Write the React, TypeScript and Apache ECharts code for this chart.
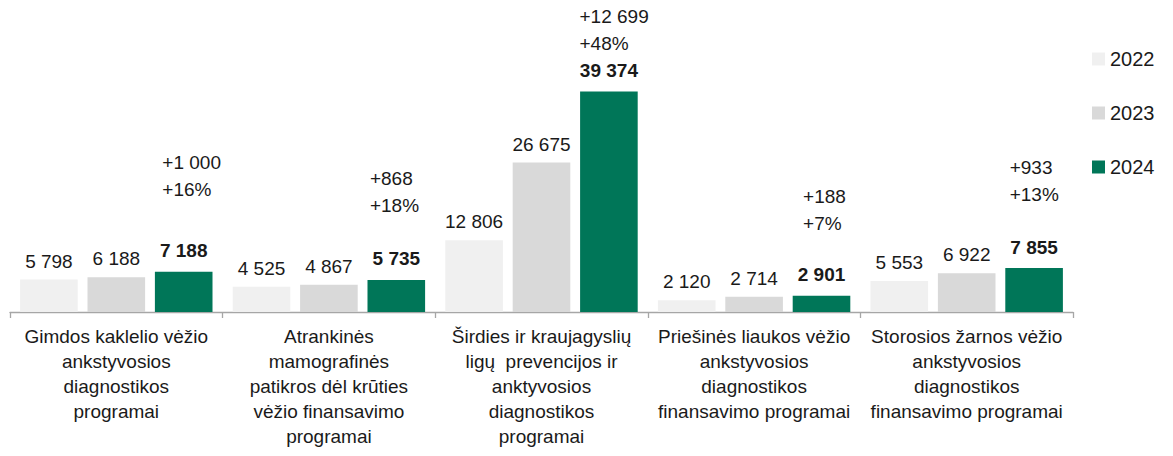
import React, { useEffect, useRef } from "react";
import * as echarts from "echarts";

const categories = [
  "Gimdos kaklelio vėžio\nankstyvosios\ndiagnostikos\nprogramai",
  "Atrankinės\nmamografinės\npatikros dėl krūties\nvėžio finansavimo\nprogramai",
  "Širdies ir kraujagyslių\nligų  prevencijos ir\nanktyvosios\ndiagnostikos\nprogramai",
  "Priešinės liaukos vėžio\nankstyvosios\ndiagnostikos\nfinansavimo programai",
  "Storosios žarnos vėžio\nankstyvosios\ndiagnostikos\nfinansavimo programai",
];
const years = ["2022", "2023", "2024"];
const values2022 = [5798, 4525, 12806, 2120, 5553];
const values2023 = [6188, 4867, 26675, 2714, 6922];
const values2024 = [7188, 5735, 39374, 2901, 7855];
const diffAbs = [1000, 868, 12699, 188, 933];
const diffPct = [16, 18, 48, 7, 13];

// layout of the change annotations (pixels, relative to the category centre / bar top)
const annDx = [46, 41, 38, 49, 43];
const annDy = [68, 60, 34, 58, 60];

const colors = ["#f0f0f0", "#d9d9d9", "#007658"];
const FONT = "'Liberation Sans', Arial, sans-serif";
const FS = 19;

const fmt = (v: number) => String(v).replace(/\B(?=(\d{3})+(?!\d))/g, " ");

export default function App() {
  const ref = useRef<HTMLDivElement>(null);
  useEffect(() => {
    if (!ref.current) return;
    const chart = echarts.init(ref.current, undefined, { renderer: "svg" });
    const plainLabel = {
      show: true,
      position: "top",
      distance: 9,
      color: "#1a1a1a",
      fontSize: FS,
      fontFamily: FONT,
      formatter: (p: any) => fmt(p.value),
    };
    chart.setOption({
      animation: false,
      textStyle: { fontFamily: FONT },
      legend: {
        orient: "vertical",
        left: 1087,
        top: 44,
        itemWidth: 13,
        itemHeight: 13,
        itemGap: 34,
        icon: "rect",
        textStyle: { fontSize: 20, color: "#1a1a1a", fontFamily: FONT, padding: [0, 0, 0, 0] },
        data: years,
      },
      grid: { left: 10, right: 100, top: 88, bottom: 144, containLabel: false },
      xAxis: {
        type: "category",
        data: categories,
        axisLine: { lineStyle: { color: "#a6a6a6", width: 1.3 } },
        axisTick: { show: true, length: 6, alignWithLabel: false, lineStyle: { color: "#a6a6a6", width: 1.3 } },
        axisLabel: {
          interval: 0,
          margin: 12,
          fontSize: FS,
          lineHeight: 25,
          color: "#1a1a1a",
          fontFamily: FONT,
          align: "center",
          verticalAlign: "top",
        },
      },
      yAxis: { type: "value", min: 0, max: 40000, show: false, splitLine: { show: false } },
      series: [
        { name: years[0], type: "bar", data: values2022, itemStyle: { color: colors[0] }, label: plainLabel, barGap: "17%", barCategoryGap: "9.5%" },
        { name: years[1], type: "bar", data: values2023, itemStyle: { color: colors[1] }, label: plainLabel, barGap: "17%", barCategoryGap: "9.5%" },
        {
          name: years[2],
          type: "bar",
          data: values2024,
          itemStyle: { color: colors[2] },
          label: { ...plainLabel, distance: 8, lineHeight: 26, fontWeight: "bold" },
          barGap: "17%",
          barCategoryGap: "9.5%",
        },
        {
          name: "change",
          type: "scatter",
          data: values2024,
          symbol: "circle",
          symbolSize: 1,
          silent: true,
          itemStyle: { color: "rgba(0,0,0,0)" },
          label: {
            show: true,
            position: "top",
            distance: 0,
            align: "left",
            opacity: 1,
            color: "#1a1a1a",
            fontSize: FS,
            lineHeight: 27,
            fontFamily: FONT,
            formatter: (p: any) => `+${fmt(diffAbs[p.dataIndex])}\n+${diffPct[p.dataIndex]}%`,
          },
          labelLayout: (p: any) => ({ dx: annDx[p.dataIndex], dy: -annDy[p.dataIndex], hideOverlap: false }),
          emphasis: { disabled: true },
          z: 5,
        },
      ],
    });
    return () => chart.dispose();
  }, []);
  return (
    <div
      ref={ref}
      style={{ position: "fixed", left: 0, top: 0, width: 1173, height: 456, background: "#fff" }}
    />
  );
}
